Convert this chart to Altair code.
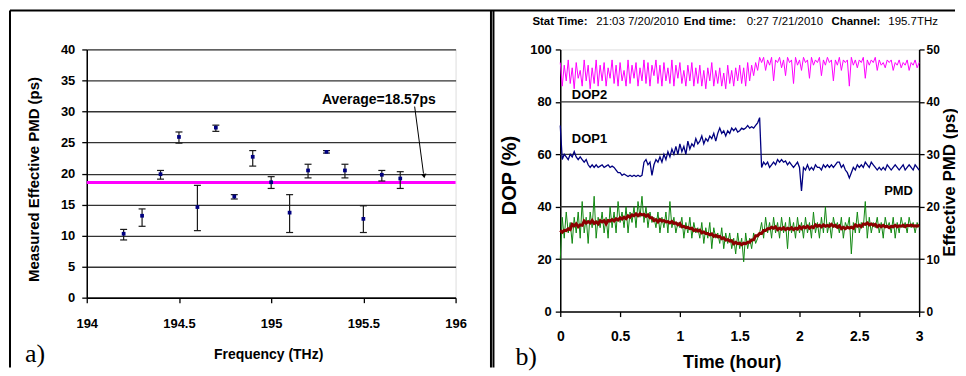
import altair as alt
import pandas as pd

# ---------------- panel a) data ----------------
freq = [194.2, 194.3, 194.4, 194.5, 194.6, 194.7, 194.8, 194.9,
        195.0, 195.1, 195.2, 195.3, 195.4, 195.5, 195.6, 195.7]
pmd_meas = [10.3, 13.2, 19.9, 25.9, 14.6, 27.4, 16.3, 22.7,
            18.6, 13.7, 20.5, 23.5, 20.5, 12.7, 19.8, 19.2]
err_low = [9.3, 11.5, 19.1, 24.9, 10.8, 26.8, 15.9, 21.2,
           17.6, 10.5, 19.3, 23.3, 19.3, 10.5, 18.8, 17.6]
err_high = [11.0, 14.3, 20.5, 26.7, 18.1, 27.8, 16.6, 23.7,
            19.5, 16.6, 21.5, 23.7, 21.5, 14.8, 20.5, 20.3]
avg_pmd = [18.57]
avg_label = ["Average=18.57ps"]
avg_label_pos = [195.276, 31.8]
arrow_from = [195.778, 30.8]
arrow_to = [195.826, 20.0]
arrow_tip = [195.829, 19.6]
panel_a_label = ["a)"]
panel_a_pos = [193.665, -10.4]

# ---------------- panel b) data (one sample per minute) ----------------
minutes = list(range(181))
dop2 = [95, 86, 94, 88, 96, 87, 93, 85, 95, 89,
        92, 86, 96, 88, 94, 85, 93, 87, 96, 86,
        94, 88, 95, 86, 93, 89, 96, 87, 94, 86,
        95, 88, 92, 86, 96, 87, 94, 89, 95, 86,
        93, 88, 96, 87, 95, 86, 94, 90, 96, 87,
        94, 86, 95, 88, 93, 87, 96, 86, 94, 89,
        95, 87, 92, 86, 94, 88, 95, 86, 93, 87,
        94, 86, 92, 85, 93, 88, 95, 86, 92, 87,
        93, 86, 91, 85, 94, 87, 92, 86, 93, 88,
        94, 87, 93, 86, 95, 88, 94, 90, 95, 92,
        97, 95, 97, 92, 96, 94, 97, 88, 96, 95,
        97, 93, 96, 90, 97, 95, 96, 87, 97, 94,
        96, 92, 97, 95, 96, 89, 97, 94, 96, 95,
        97, 90, 96, 94, 97, 95, 96, 88, 96, 94,
        97, 92, 96, 95, 96, 86, 97, 94, 96, 93,
        96, 95, 97, 89, 96, 94, 96, 95, 97, 92,
        96, 94, 95, 93, 96, 95, 96, 92, 95, 94,
        96, 93, 95, 94, 96, 92, 95, 94, 96, 93, 95]
dop1 = [71, 58, 60, 59, 58, 60, 59, 61, 59, 58,
        59, 58, 57, 58, 56, 55, 56, 55, 56, 55,
        55.5, 56, 55, 55.5, 56, 55, 55.5, 55, 54, 53,
        53, 52, 52.5, 52, 51.5, 52, 51.5, 52, 51.5, 52,
        51.5, 52, 57, 58, 56, 57, 52, 56, 58, 57,
        59, 57, 60, 58, 61, 59, 62, 60, 63, 60,
        64, 61, 63, 60, 65, 62, 64, 63, 66, 64,
        65, 67, 64, 66, 65, 67, 66, 68, 65, 68,
        70, 68, 69, 67, 69, 68, 70, 69, 70, 68.5,
        69, 70, 69.5, 70, 71, 70, 70.5, 70, 71, 72,
        74, 55, 57, 56, 57, 55, 56, 57, 56, 58,
        57, 58, 57, 57.5, 56, 57, 56, 55, 56, 57,
        55, 46, 55, 54, 56, 54, 55, 54, 56, 55,
        55, 54, 56, 55, 56, 55, 56, 55, 56, 57,
        57, 55, 56, 54, 53, 51, 53, 55, 54, 56,
        55, 56, 55, 57, 56, 55, 57, 56, 55, 54,
        55, 54, 55, 54, 56, 55, 54, 55, 56, 55,
        54, 55, 56, 54, 55, 56, 55, 54, 56, 55, 54]
pmd_trace = [10, 18, 14, 19, 15, 17, 13, 18, 15, 19,
             14, 21, 15, 18, 13, 19, 16, 22, 14, 18,
             16, 19, 15, 18, 14, 20, 16, 19, 15, 21,
             17, 19, 16, 20, 15, 19, 17, 20, 16, 21,
             18, 22, 17, 20, 16, 19, 17, 18, 16, 19,
             15, 18, 16, 19, 15, 21, 16, 18, 15, 17,
             16, 18, 14, 17, 15, 18, 14, 17, 15, 16,
             14, 17, 13, 16, 14, 17, 12, 16, 14, 15,
             13, 16, 12, 15, 13, 15, 12, 14, 11, 15,
             12, 14, 9.5, 15, 12, 14, 12, 15, 13, 14,
             15, 17, 14, 18, 15, 17, 14, 18, 15, 17,
             14, 18, 15, 17, 12, 18, 15, 17, 14, 18,
             15, 17, 14, 18, 15, 17, 14, 19, 15, 17,
             14, 18, 15, 20, 15, 17, 14, 18, 16, 17,
             15, 18, 14, 17, 16, 18, 11, 17, 15, 19,
             15, 17, 16, 21, 14, 18, 15, 17, 16, 18,
             15, 17, 14, 18, 16, 17, 15, 18, 14, 17,
             15, 18, 16, 17, 15, 18, 16, 17, 15, 17, 16]
series_labels = ["DOP2", "DOP1", "PMD"]
series_label_t = [0.097, 0.097, 2.708]
series_label_v = [82.6, 65.9, 46.0]
header_bold = ["Stat Time:", "End time:", "Channel:"]
header_bold_t = [-0.233, 1.033, 2.267]
header_vals = ["21:03 7/20/2010", "0:27 7/21/2010", "195.7THz"]
header_vals_t = [0.30, 1.558, 2.742]
header_v = 110.5
panel_b_label = ["b)"]
panel_b_pos = [-0.375, -20.2]

FONT = "Liberation Sans"
SERIF = "Liberation Serif"

common_axis = dict(labelFont=FONT, labelFontWeight="bold", labelColor="black",
                   labelFlush=False, labelOverlap=False, tickSize=5, tickColor="black",
                   tickWidth=1.3, domainColor="black", domainWidth=1.5,
                   titleFont=FONT, titleFontWeight="bold", titleColor="black")

# ================= panel a =================
df_a = pd.DataFrame({"f": freq, "pmd": pmd_meas, "lo": err_low, "hi": err_high})

xs_a = alt.Scale(domain=[194, 196], nice=False, zero=False, padding=0)
ys_a = alt.Scale(domain=[0, 40], nice=False, padding=0)
ax_a_x = alt.Axis(values=[194, 194.5, 195, 195.5, 196], format="~g", grid=False,
                  title="Frequency (THz)", titleFontSize=14,
                  titleX=182, titleY=57, titleBaseline="middle",
                  labelFontSize=13, labelPadding=15, **common_axis)
ax_a_y = alt.Axis(values=list(range(0, 41, 5)), grid=True, gridColor="#333333", gridWidth=1.3,
                  title="Measured Effective PMD (ps)", titleFontSize=15,
                  titleX=-53, titleY=130, titleBaseline="middle", titleAngle=270,
                  labelFontSize=13, labelPadding=7, **common_axis)


def XA(field):
    return alt.X(field, type="quantitative", scale=xs_a, axis=ax_a_x)


def YA(field):
    return alt.Y(field, type="quantitative", scale=ys_a, axis=ax_a_y)


base_a = alt.Chart(df_a)
avg_rule = alt.Chart(pd.DataFrame({"avg": avg_pmd})).mark_rule(
    color="#FF00FF", strokeWidth=3).encode(y=YA("avg"))
bars = base_a.mark_rule(color="#1a1a1a", strokeWidth=1.2).encode(
    x=XA("f"), y=YA("lo"), y2="hi")
cap_lo = base_a.mark_tick(orient="horizontal", size=7, thickness=1.2, color="#1a1a1a",
                          opacity=1).encode(x=XA("f"), y=YA("lo"))
cap_hi = base_a.mark_tick(orient="horizontal", size=7, thickness=1.2, color="#1a1a1a",
                          opacity=1).encode(x=XA("f"), y=YA("hi"))
pts = base_a.mark_square(size=14, color="#000080", opacity=1).encode(x=XA("f"), y=YA("pmd"))
avg_text = alt.Chart(pd.DataFrame({"x": [avg_label_pos[0]], "y": [avg_label_pos[1]],
                                   "s": avg_label})).mark_text(
    font=FONT, fontSize=14, fontWeight="bold", align="left", baseline="middle",
    color="black").encode(x=XA("x"), y=YA("y"), text="s:N")
arrow_line = alt.Chart(pd.DataFrame({"x": [arrow_from[0]], "y": [arrow_from[1]],
                                     "x2": [arrow_to[0]], "y2": [arrow_to[1]]})).mark_rule(
    color="black", strokeWidth=1).encode(x=XA("x"), y=YA("y"), x2="x2", y2="y2")
arrow_head = alt.Chart(pd.DataFrame({"x": [arrow_tip[0]], "y": [arrow_tip[1]]})).mark_point(
    shape="triangle-down", angle=352, size=28, filled=True, color="black",
    opacity=1).encode(x=XA("x"), y=YA("y"))
a_text = alt.Chart(pd.DataFrame({"x": [panel_a_pos[0]], "y": [panel_a_pos[1]],
                                 "s": panel_a_label})).mark_text(
    font=SERIF, fontSize=26, align="left", baseline="alphabetic", color="black").encode(
    x=XA("x"), y=YA("y"), text="s:N")

one = pd.DataFrame({"k": [0]})
border_style = dict(color="black", strokeWidth=2)
b_left = alt.Chart(one).mark_rule(**border_style).encode(
    x=alt.value(-77), y=alt.value(-39), y2=alt.value(319))
b_top = alt.Chart(one).mark_rule(**border_style).encode(
    x=alt.value(-77), x2=alt.value(871), y=alt.value(-39))
b_mid1 = alt.Chart(one).mark_rule(**border_style).encode(
    x=alt.value(405.5), y=alt.value(-39), y2=alt.value(319))
b_mid2 = alt.Chart(one).mark_rule(**border_style).encode(
    x=alt.value(408), y=alt.value(-39), y2=alt.value(319))

left = alt.layer(avg_rule, bars, cap_lo, cap_hi, pts, avg_text, arrow_line, arrow_head,
                 a_text, b_left, b_top, b_mid1, b_mid2).properties(width=370, height=249)

# ================= panel b =================
df_b = pd.DataFrame({"t": [m / 60 for m in minutes], "dop1": dop1, "dop2": dop2,
                     "pmd": pmd_trace})

xs_b = alt.Scale(domain=[0, 3], nice=False, zero=False, padding=0)
ys_dop = alt.Scale(domain=[0, 100], nice=False, padding=0)
ys_pmd = alt.Scale(domain=[0, 50], nice=False, padding=0)
ax_b_x = alt.Axis(values=[0, 0.5, 1, 1.5, 2, 2.5, 3], format="~g", grid=False,
                  title="Time (hour)", titleFontSize=18,
                  titleX=172, titleY=51, titleBaseline="middle",
                  labelFontSize=14, labelPadding=13, **common_axis)
ax_dop = alt.Axis(values=[0, 20, 40, 60, 80, 100], grid=False, title="DOP (%)",
                  titleFontSize=20, titleX=-51, titleY=126, titleBaseline="middle",
                  titleAngle=270, labelFontSize=13, labelPadding=4, **common_axis)
ax_pmd = alt.Axis(values=[0, 10, 20, 30, 40, 50], grid=False, orient="right",
                  title="Effective PMD (ps)", titleFontSize=17,
                  titleX=30, titleY=133, titleBaseline="middle", titleAngle=270,
                  labelFontSize=12, labelPadding=2, **common_axis)


def XB(field):
    return alt.X(field, type="quantitative", scale=xs_b, axis=ax_b_x)


def YD(field):
    return alt.Y(field, type="quantitative", scale=ys_dop, axis=ax_dop)


def YP(field):
    return alt.Y(field, type="quantitative", scale=ys_pmd, axis=ax_pmd)


base_b = alt.Chart(df_b)
grid_b = alt.Chart(pd.DataFrame({"g": [20, 40, 60, 80]})).mark_rule(
    color="#333333", strokeWidth=1.3).encode(y=YD("g"))
l_dop2 = base_b.mark_line(color="#FF00FF", strokeWidth=1).encode(x=XB("t"), y=YD("dop2"))
l_dop1 = base_b.mark_line(color="#000080", strokeWidth=1.3).encode(x=XB("t"), y=YD("dop1"))
lab_b = alt.Chart(pd.DataFrame({"t": series_label_t, "v": series_label_v,
                                "s": series_labels})).mark_text(
    font=FONT, fontSize=13, fontWeight="bold", align="left", baseline="middle",
    color="black").encode(x=XB("t"), y=YD("v"), text="s:N")
hdr1 = alt.Chart(pd.DataFrame({"t": header_bold_t, "v": [header_v] * 3,
                               "s": header_bold})).mark_text(
    font=FONT, fontSize=11.5, fontWeight="bold", align="left", baseline="middle",
    color="black").encode(x=XB("t"), y=YD("v"), text="s:N")
hdr2 = alt.Chart(pd.DataFrame({"t": header_vals_t, "v": [header_v] * 3,
                               "s": header_vals})).mark_text(
    font=FONT, fontSize=11.5, align="left", baseline="middle",
    color="black").encode(x=XB("t"), y=YD("v"), text="s:N")
b_text = alt.Chart(pd.DataFrame({"t": [panel_b_pos[0]], "v": [panel_b_pos[1]],
                                 "s": panel_b_label})).mark_text(
    font=SERIF, fontSize=26, align="left", baseline="alphabetic", color="black").encode(
    x=XB("t"), y=YD("v"), text="s:N")

dop_group = alt.layer(grid_b, l_dop2, l_dop1, lab_b, hdr1, hdr2, b_text)

l_pmd = base_b.mark_line(color="#118811", strokeWidth=1).encode(x=XB("t"), y=YP("pmd"))
l_ma = base_b.transform_window(
    ma="mean(pmd)", frame=[-5, 5], sort=[alt.SortField("t")]
).mark_line(color="#8B0000", strokeWidth=3).encode(x=XB("t"), y=YP("ma:Q"))
pmd_group = alt.layer(l_pmd, l_ma)

right = alt.layer(dop_group, pmd_group).resolve_scale(y="independent").properties(
    width=360, height=263)

chart = alt.hconcat(left, right, spacing=105, bounds="flush").properties(
    padding={"left": 0, "top": 0, "right": 0, "bottom": 0}
).configure_view(stroke=None).configure(background="white")

chart.save("out.html", embed_options={"renderer": "svg", "actions": False})
